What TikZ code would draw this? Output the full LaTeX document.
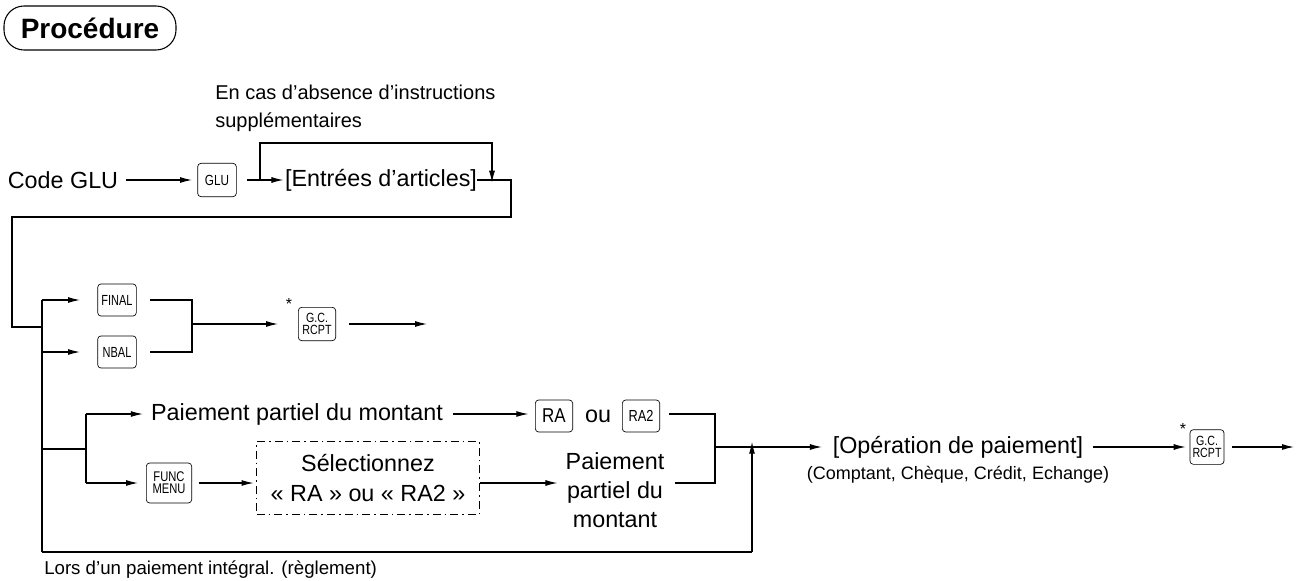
\documentclass[tikz,border=0pt]{standalone}
\usepackage{fontspec}
\setmainfont{Liberation Sans}
\usetikzlibrary{arrows.meta}
\begin{document}
\begin{tikzpicture}[x=0.75pt,y=-0.75pt,
  lbl/.style={font=\fontsize{17.5}{20}\selectfont, inner sep=0pt},
  sub/.style={font=\fontsize{13.5}{15}\selectfont, inner sep=0pt},
  key/.style={draw, rounded corners=2.5pt, line width=0.5pt, inner sep=0pt, align=center,
     font=\fontsize{11}{10}\selectfont},
  arr/.style={-{Latex[length=9pt,width=4.5pt]}, line width=0.8pt},
  ln/.style={line width=0.8pt},
  star/.style={font=\fontsize{12}{12}\selectfont, inner sep=0pt}]
\useasboundingbox (0,0) rectangle (1298,581);
% title
\node[draw, rounded corners=15pt, line width=0.8pt, minimum width=129pt, minimum height=33pt,
  font=\fontsize{21}{22}\selectfont\bfseries] (title) at (90,28) {Procédure};
\node[lbl, anchor=west, align=left, font=\fontsize{15}{21}\selectfont] (note) at (215,108) {En cas d’absence d’instructions\\supplémentaires};
% row 1
\node[lbl] (code) at (63,180) {Code GLU};
\node[key, minimum width=29pt, minimum height=25pt] (glu) at (217,180) {\scalebox{0.8}[1]{GLU}};
\node[lbl] (ent) at (381,180) {[Entrées d’articles]};
\coordinate (lp) at (260,180);
\coordinate (lq) at (492,143);
\coordinate (lr) at (492,180);
\coordinate (e1) at (511,180);
\coordinate (e2) at (511,217);
\coordinate (e3) at (12,217);
\coordinate (e4) at (12,327);
\coordinate (t1) at (42,327);
\coordinate (t0) at (42,300);
\coordinate (t2) at (42,352);
\coordinate (t3) at (42,449);
\coordinate (t4) at (42,552);
\draw[arr, shorten <=6pt, shorten >=4pt] (code) -- (glu);
\draw[arr, shorten <=8pt, shorten >=1pt] (glu) -- (ent);
\draw[arr] (lp) |- (lq) -- ([yshift=-2]lr);
\draw[ln] (ent.east) -- (e1) -- (e2) -- (e3) -- (e4) -- (t1);
\draw[ln] (t0) -- (t4);
% FINAL / NBAL
\node[key, minimum width=29pt, minimum height=24pt] (final) at (117,300) {\scalebox{0.75}[1]{FINAL}};
\node[key, minimum width=29pt, minimum height=24pt] (nbal) at (117,352) {\scalebox{0.75}[1]{NBAL}};
\draw[arr, shorten >=13pt] (t0) -- (final);
\draw[arr, shorten >=13pt] (t2) -- (nbal);
\coordinate (j1) at (192,300);
\coordinate (j2) at (192,352);
\coordinate (j3) at (192,324);
\coordinate (gend) at (427,324);
\node[key, minimum width=28pt, minimum height=25pt, font=\fontsize{10}{8.5}\selectfont] (gc1) at (317,324) {\scalebox{0.8}[1]{G.C.}\\\scalebox{0.8}[1]{RCPT}};
\node[star] (s1) at (289,304) {*};
\draw[ln, shorten <=10pt] (final) -- (j1) -- (j2) -- ([xshift=10]nbal.east);
\draw[arr, shorten >=15pt] (j3) -- (gc1);
\draw[arr, shorten <=10pt] (gc1) -- (gend);
% partial payment
\coordinate (s0) at (86,449);
\coordinate (sa) at (86,414);
\coordinate (sb) at (86,483);
\draw[ln] (t3) -- (s0);
\draw[ln] (sa) -- (sb);
\node[lbl] (pp) at (297,414) {Paiement partiel du montant};
\node[key, minimum width=28pt, minimum height=24pt, font=\fontsize{15}{15}\selectfont] (ra) at (554,416) {\scalebox{0.85}[1]{RA}};
\node[lbl] (ou) at (598,416) {ou};
\node[key, minimum width=28pt, minimum height=24pt, font=\fontsize{12}{12}\selectfont] (ra2) at (641,416) {\scalebox{0.8}[1]{RA2}};
\node[key, minimum width=34pt, minimum height=30pt, font=\fontsize{10.5}{9}\selectfont] (func) at (169,483) {\scalebox{0.8}[1]{FUNC}\\\scalebox{0.8}[1]{MENU}};
\node[draw, dash pattern=on 6pt off 3pt on 1.2pt off 3pt, line width=0.7pt, minimum width=167pt, minimum height=55pt,
   align=center, font=\fontsize{17.5}{22}\selectfont] (sel) at (368,478) {Sélectionnez\\« RA » ou « RA2 »};
\node[lbl, align=center, font=\fontsize{17.5}{22}\selectfont] (pay) at (615,490) {Paiement\\partiel du\\montant};
\draw[arr] (sa) -- ([xshift=-6]pp.west);
\draw[arr, shorten >=6pt] (sb) -- (func.west |- sb);
\draw[arr, shorten <=7pt, shorten >=5pt] (pp.east) -- (ra.west |- pp.east);
\draw[arr, shorten <=5pt, shorten >=2pt] (func.east) -- (sel.west |- func.east);
\draw[arr, shorten >=6pt] (sel.east |- sb) -- (pay.west |- sb);
\coordinate (m1) at (715,414);
\coordinate (m2) at (715,483);
\coordinate (m3) at (715,447);
\coordinate (b1) at (752,552);
\coordinate (b2) at (752,447);
\draw[ln, shorten <=7pt] (ra2.east |- m1) -- (m1) -- (m2) -- ([xshift=8]pay.east |- m2);
\draw[ln] (t4) -- (b1);
\draw[arr] (b1) -- ([yshift=4]b2);
% payment operation
\node[lbl] (op) at (958,447) {[Opération de paiement]};
\node[sub] (cc) at (958,475) {(Comptant, Chèque, Crédit, Echange)};
\draw[arr, shorten >=8pt] (m3) -- (op.west |- m3);
\node[key, minimum width=25.5pt, minimum height=26pt, font=\fontsize{10}{8.5}\selectfont] (gc2) at (1207,447) {\scalebox{0.8}[1]{G.C.}\\\scalebox{0.8}[1]{RCPT}};
\node[star] (s2) at (1183,429) {*};
\coordinate (gend2) at (1294,447);
\draw[arr, shorten <=7pt, shorten >=3pt] (op.east) -- (gc2.west |- op.east);
\draw[arr, shorten <=6pt] (gc2) -- (gend2);
\node[lbl, anchor=west, font=\fontsize{14}{16}\selectfont] (lors) at (44,570) {Lors d’un paiement intégral. (règlement)};
\end{tikzpicture}
\end{document}
